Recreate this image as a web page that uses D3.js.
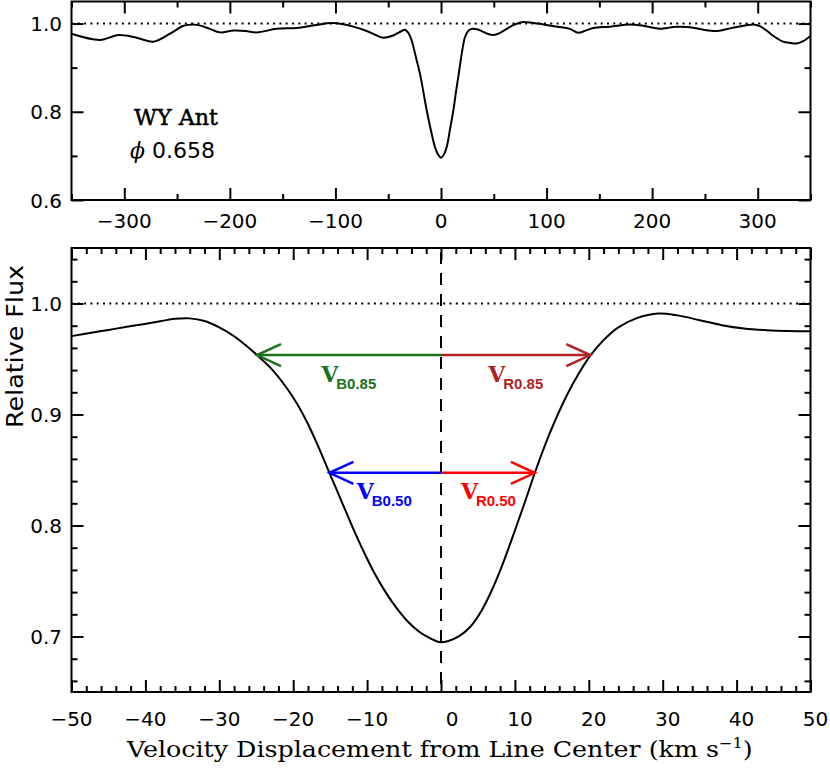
<!DOCTYPE html>
<html><head><meta charset="utf-8">
<script src="https://cdn.jsdelivr.net/npm/d3@7"></script>
<style>body{margin:0;background:#fff} svg{display:block}</style>
</head><body>
<svg id="chart" width="830" height="768"></svg>
<script>
// ---------- DATA ----------
// Top panel: full line profile (velocity km/s, relative flux)
const topVelocity = [-350,-323,-305.7,-290,-272.5,-256.7,-245,-239.4,-231.4,-220,-209.3,-196.7,-185,-174.6,-155.6,-136.7,-120,-102,-83,-70.4,-60,-54.7,-45.2,-38,-34.1,-30.5,-27.8,-24,-19.9,-13.5,-9,-5.7,-2.5,0,2.5,5.4,8.5,11.7,14.5,17.3,20,22.7,26,30,34,38.5,44,49.5,56,62.2,70,76.4,86,96.9,110,122,130,137,144.3,160,179,191.6,200,207.4,214,220,232.7,240,248.5,261,270,280,295.8,302,308.5,316,324,331,337,343,350];
const topFlux = [0.977,0.963,0.974,0.969,0.959,0.977,0.994,0.997,0.997,0.989,0.980,0.984,0.983,0.980,0.988,0.990,0.996,1.001,0.993,0.983,0.972,0.968,0.973,0.982,0.986,0.977,0.962,0.926,0.886,0.803,0.752,0.720,0.702,0.696,0.702,0.720,0.760,0.803,0.850,0.894,0.937,0.969,0.984,0.988,0.987,0.983,0.977,0.974,0.979,0.988,0.998,1.003,1.002,0.998,0.993,0.988,0.979,0.984,0.990,0.993,0.998,0.995,0.991,0.988,0.990,0.992,0.992,0.990,0.986,0.983,0.987,0.992,0.998,0.994,0.984,0.970,0.959,0.956,0.955,0.960,0.972];

// Bottom panel: zoom on the line core
const botVelocity = [-50,-47.5,-45,-42.5,-40.3,-38,-36,-34,-32,-30,-28,-26.5,-24.9,-23,-21,-19.5,-18,-16.5,-15.1,-13.5,-12,-10.5,-9,-7.5,-6,-4.5,-3,-1.5,-0.3,1,2.5,4,5.5,7,8.5,10,11.4,12.7,14,15.4,17,18.6,20.2,22,24,26.5,29.4,32,35,38,41,44,47,50];
const botFlux = [0.9706,0.9735,0.9762,0.979,0.9814,0.9840,0.9862,0.9866,0.9842,0.9785,0.9705,0.9628,0.9535,0.9415,0.925,0.910,0.8915,0.8695,0.8475,0.8225,0.799,0.777,0.757,0.740,0.7255,0.7135,0.7045,0.6985,0.695,0.696,0.7005,0.709,0.7235,0.7435,0.768,0.7955,0.822,0.8475,0.8711,0.8939,0.9169,0.9364,0.9530,0.967,0.9785,0.9868,0.991,0.9893,0.985,0.9805,0.9775,0.976,0.9752,0.975];

// Bisector arrows: level flux, blue-edge velocity, red-edge velocity, label
const arrowLevel = [0.9535, 0.8475];
const arrowBlueVel = [-24.9, -15.1];
const arrowRedVel = [20.2, 12.7];
const arrowLabel = ["0.85", "0.50"];

// Tick labels
const topXTicks = [-300,-200,-100,0,100,200,300];
const topXMinor = [-350,-250,-150,-50,50,150,250,350];
const topYTicks = [0.6,0.8,1.0];
const topYMinor = [0.7,0.9];
const botXTicks = [-50,-40,-30,-20,-10,0,10,20,30,40,50];
const botYTicks = [0.7,0.8,0.9,1.0];

const starName = "WY Ant";
const phaseText = "0.658";

// ---------- LAYOUT ----------
const svg = d3.select("#chart");
const X0 = 71.5, X1 = 810.5;
const topP = {y0: 200, y1: 1.5};
const botP = {y0: 692, y1: 248};

const xTop = d3.scaleLinear().domain([-350,350]).range([X0,X1]);
const yTop = d3.scaleLinear().domain([0.6,1.05]).range([topP.y0, topP.y1]);
const xBot = d3.scaleLinear().domain([-50,50]).range([X0,X1]);
const yBot = d3.scaleLinear().domain([0.65,1.05]).range([botP.y0, botP.y1]);

const numFont = "'DejaVu Sans', sans-serif";
const fmtMinus = v => (v < 0 ? "\u2212" + Math.abs(v) : String(v));

function drawFrame(x, y, xMaj, xMin, yMaj, yMin) {
  const g = svg.append("g");
  const [ya, yb] = y.range();
  const [xa, xb] = x.range();
  const addAxis = (axis, tr) => {
    const a = g.append("g").attr("transform", tr).call(axis);
    a.select(".domain").remove();
    a.selectAll("text").remove();
    a.selectAll("line").attr("stroke", "#000").attr("stroke-width", 2);
  };
  const MJ = 12, MN = 6;
  addAxis(d3.axisBottom(x).tickValues(xMaj).tickSize(-MJ), `translate(0,${ya})`);
  addAxis(d3.axisBottom(x).tickValues(xMin).tickSize(-MN), `translate(0,${ya})`);
  addAxis(d3.axisTop(x).tickValues(xMaj).tickSize(-MJ), `translate(0,${yb})`);
  addAxis(d3.axisTop(x).tickValues(xMin).tickSize(-MN), `translate(0,${yb})`);
  addAxis(d3.axisLeft(y).tickValues(yMaj).tickSize(-MJ), `translate(${xa},0)`);
  addAxis(d3.axisLeft(y).tickValues(yMin).tickSize(-MN), `translate(${xa},0)`);
  addAxis(d3.axisRight(y).tickValues(yMaj).tickSize(-MJ), `translate(${xb},0)`);
  addAxis(d3.axisRight(y).tickValues(yMin).tickSize(-MN), `translate(${xb},0)`);
  g.append("rect").attr("x", xa).attr("y", yb).attr("width", xb - xa).attr("height", ya - yb)
    .attr("fill", "none").attr("stroke", "#000").attr("stroke-width", 2);
  return g;
}

function clip(id, x, y) {
  svg.append("clipPath").attr("id", id).append("rect")
    .attr("x", x.range()[0]).attr("y", y.range()[1])
    .attr("width", x.range()[1] - x.range()[0]).attr("height", y.range()[0] - y.range()[1]);
}

// ---------- TOP PANEL ----------
clip("clipTop", xTop, yTop);
svg.append("line").attr("x1", X0).attr("x2", X1).attr("y1", yTop(1)).attr("y2", yTop(1))
  .attr("stroke", "#000").attr("stroke-width", 2).attr("stroke-dasharray", "2,4.3");
const topData = topVelocity.map((v, i) => [v, topFlux[i]]);
svg.append("path").datum(topData).attr("clip-path", "url(#clipTop)")
  .attr("fill", "none").attr("stroke", "#000").attr("stroke-width", 2)
  .attr("d", d3.line().x(d => xTop(d[0])).y(d => yTop(d[1])).curve(d3.curveCatmullRom.alpha(0.5)));
drawFrame(xTop, yTop, topXTicks, topXMinor, topYTicks, topYMinor);

svg.append("g").selectAll("text").data(topXTicks).join("text")
  .attr("x", d => xTop(d)).attr("y", 228).attr("text-anchor", "middle")
  .attr("font-family", numFont).attr("font-size", 20).text(fmtMinus);
svg.append("g").selectAll("text").data(topYTicks).join("text")
  .attr("x", 62).attr("y", d => yTop(d) + 7.5).attr("text-anchor", "end")
  .attr("font-family", numFont).attr("font-size", 20).text(d => d.toFixed(1));

svg.append("text").attr("x", 134).attr("y", 125)
  .attr("font-family", "'DejaVu Serif', serif").attr("font-size", 22)
  .attr("stroke", "#000").attr("stroke-width", 0.5)
  .attr("textLength", 84).attr("lengthAdjust", "spacingAndGlyphs").text(starName);
const ph = svg.append("text").attr("x", 130).attr("y", 158)
  .attr("font-family", numFont).attr("font-size", 22);
ph.append("tspan").attr("font-family", "'DejaVu Serif', serif").attr("font-style", "italic").text("\u03D5");
ph.append("tspan").text(" " + phaseText);

// ---------- BOTTOM PANEL ----------
clip("clipBot", xBot, yBot);
svg.append("line").attr("x1", X0).attr("x2", X1).attr("y1", yBot(1)).attr("y2", yBot(1))
  .attr("stroke", "#000").attr("stroke-width", 2).attr("stroke-dasharray", "2,4.3");
svg.append("line").attr("x1", xBot(0)).attr("x2", xBot(0)).attr("y1", yBot.range()[1] + 4).attr("y2", yBot.range()[0])
  .attr("stroke", "#000").attr("stroke-width", 2).attr("stroke-dasharray", "12,9");

const botData = botVelocity.map((v, i) => [v, botFlux[i]]);
svg.append("path").datum(botData).attr("clip-path", "url(#clipBot)")
  .attr("fill", "none").attr("stroke", "#000").attr("stroke-width", 2)
  .attr("d", d3.line().x(d => xBot(d[0])).y(d => yBot(d[1])).curve(d3.curveCatmullRom.alpha(0.5)));

// arrows
const blueCols = ["#1c721c", "#0000ff"];
const redCols = ["#b22222", "#ff0000"];
function arrow(v, f, col) {
  const y = yBot(f), x0 = xBot(0), xt = xBot(v);
  const s = Math.sign(v);
  svg.append("line").attr("x1", x0).attr("x2", xt).attr("y1", y).attr("y2", y)
    .attr("stroke", col).attr("stroke-width", 2.5);
  svg.append("polyline")
    .attr("points", `${xt - s*24},${y - 11} ${xt},${y} ${xt - s*24},${y + 11}`)
    .attr("fill", "none").attr("stroke", col).attr("stroke-width", 2.5);
}
arrowLevel.forEach((f, i) => {
  arrow(arrowBlueVel[i], f, blueCols[i]);
  arrow(arrowRedVel[i], f, redCols[i]);
});
// labels: velocity of the V's left edge, level index, side
const labelSpots = [
  {v: -16.2, i: 0, side: "B", col: blueCols[0]},
  {v: 6.4, i: 0, side: "R", col: redCols[0]},
  {v: -11.4, i: 1, side: "B", col: blueCols[1]},
  {v: 2.7, i: 1, side: "R", col: redCols[1]}
];
labelSpots.forEach(L => {
  const x = xBot(L.v), y = yBot(arrowLevel[L.i]) + 26.5;
  svg.append("text").attr("x", x).attr("y", y).attr("fill", L.col)
    .attr("font-family", "'DejaVu Serif', serif").attr("font-weight", "bold").attr("font-size", 22)
    .text("V");
  svg.append("text").attr("x", x + 15).attr("y", y + 7).attr("fill", L.col)
    .attr("font-family", "'Liberation Sans', Arial, sans-serif").attr("font-weight", "bold").attr("font-size", 15)
    .text(L.side + arrowLabel[L.i]);
});

drawFrame(xBot, yBot, botXTicks, d3.range(-48, 50, 2).filter(d => d % 10 !== 0),
          botYTicks, d3.range(0.66, 1.05, 0.02).map(d => +d.toFixed(2)).filter(d => Math.round(d*100) % 10 !== 0));

svg.append("g").selectAll("text").data(botXTicks).join("text")
  .attr("x", d => xBot(d) + (d === 0 ? 11 : d > 0 ? 5 : 0)).attr("y", 726).attr("text-anchor", "middle")
  .attr("font-family", numFont).attr("font-size", 20).text(fmtMinus);
svg.append("g").selectAll("text").data(botYTicks).join("text")
  .attr("x", 62).attr("y", d => yBot(d) + 7.5).attr("text-anchor", "end")
  .attr("font-family", numFont).attr("font-size", 20).text(d => d.toFixed(1));

// axis titles
const xt = svg.append("text").attr("x", 0).attr("y", 0)
  .attr("font-family", "'DejaVu Serif', serif").attr("font-size", 22);
xt.append("tspan").text("Velocity Displacement from Line Center (km s");
xt.append("tspan").attr("font-size", 14).attr("dy", -9).text("\u22121");
xt.append("tspan").attr("dy", 9).text(")");
const bw = xt.node().getBBox().width;
xt.attr("transform", `translate(127,757) scale(${627 / bw},1)`);

const yt = svg.append("text").attr("font-family", numFont).attr("font-size", 23)
  .attr("text-anchor", "middle").text("Relative Flux");
const yw = yt.node().getBBox().width;
yt.attr("transform", `translate(23,346.5) rotate(-90) scale(${163 / yw},1)`);
</script>
</body></html>
